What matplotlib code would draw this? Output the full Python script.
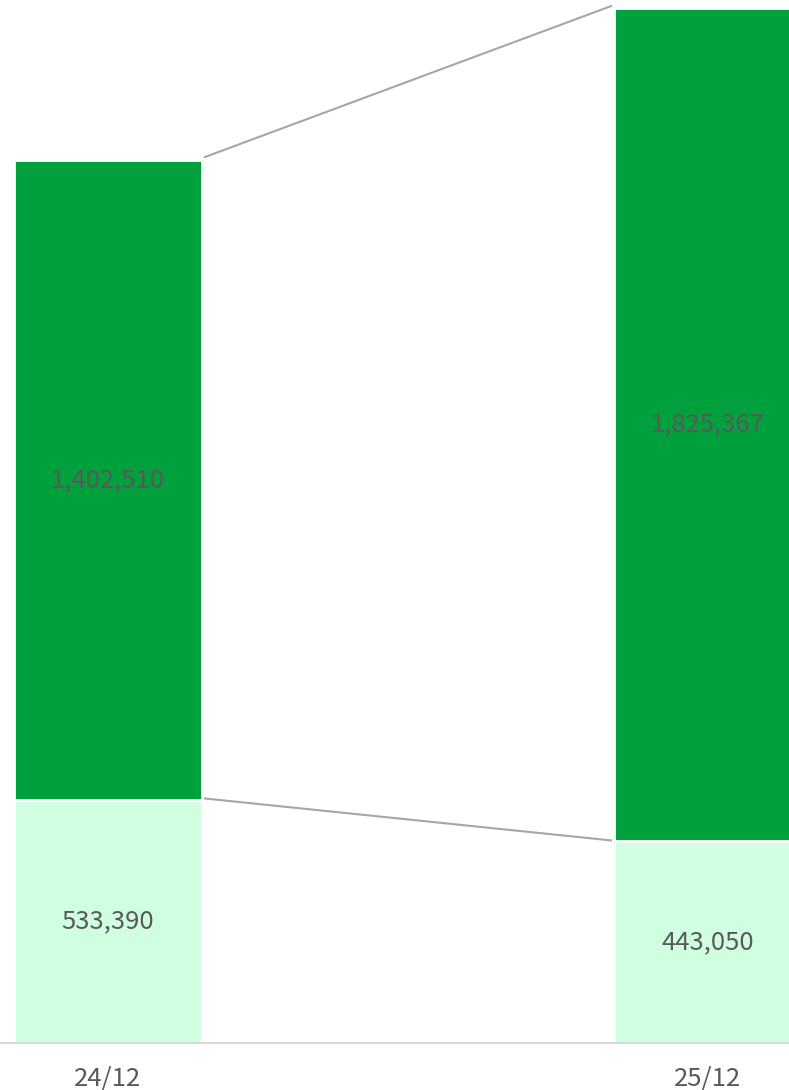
import matplotlib
matplotlib.use("Agg")
import matplotlib.pyplot as plt

plt.rcParams['font.family'] = ['Noto Sans CJK JP', 'DejaVu Sans']

periods = ['24/12', '25/12']
lower = [533390, 443050]
upper = [1402510, 1825367]

dark_green = '#00A13C'
light_green = '#CFFFE0'
text_color = '#595959'

fig = plt.figure(figsize=(7.89, 10.90), dpi=100)
ax = fig.add_axes([0, 0.0431, 1, 0.9569])

x = [0, 1]
w = 0.312
ax.bar(x, lower, width=w, color=light_green, edgecolor='white', linewidth=2)
ax.bar(x, upper, width=w, bottom=lower, color=dark_green, edgecolor='white', linewidth=2)

# connector lines between the bars
totals = [l + u for l, u in zip(lower, upper)]
gap = 0.004
ax.plot([w / 2 + gap, 1 - w / 2 - gap], [totals[0] + 6000, totals[1] + 6000],
        color='#A6A6A6', linewidth=1.5, solid_capstyle='butt')
ax.plot([w / 2 + gap, 1 - w / 2 - gap], [lower[0] + 3000, lower[1] + 1000],
        color='#A6A6A6', linewidth=1.5, solid_capstyle='butt')

for i in range(2):
    ax.text(x[i], lower[i] / 2, f'{lower[i]:,}', ha='center', va='center',
            fontsize=18.5, color=text_color)
    ax.text(x[i], lower[i] + upper[i] / 2, f'{upper[i]:,}', ha='center', va='center',
            fontsize=18.5, color=text_color)

ax.set_xlim(-0.18, 1.135)
ax.set_ylim(0, 2287000)
ax.set_xticks(x)
ax.set_xticklabels(periods, fontsize=18.5, color=text_color)
ax.tick_params(axis='x', length=0, pad=16)
ax.set_yticks([])
for s in ['top', 'left', 'right']:
    ax.spines[s].set_visible(False)
ax.spines['bottom'].set_color('#D9D9D9')
ax.spines['bottom'].set_linewidth(1.5)

fig.savefig('out.png', dpi=100)
